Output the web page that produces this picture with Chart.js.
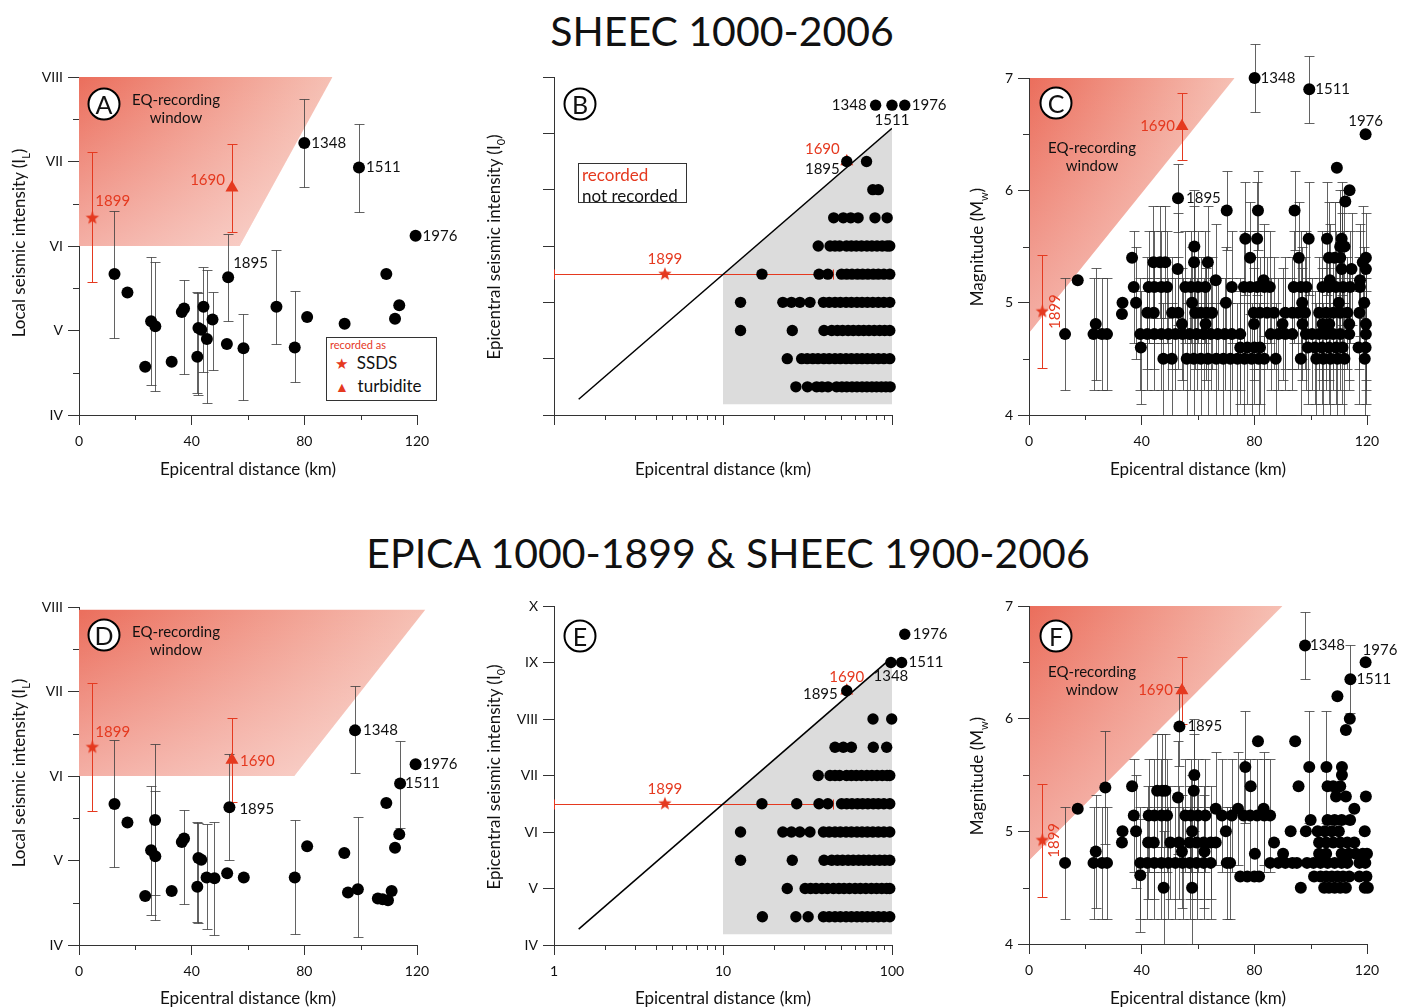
<!DOCTYPE html>
<html lang="en">
<head>
<meta charset="UTF-8">
<title>SHEEC / EPICA earthquake recording window</title>
<script src="https://cdn.jsdelivr.net/npm/chart.js"></script>
<style>
  body { margin: 0; background: #fff; font-family: Lato, 'Open Sans', sans-serif; color: #111; }
  .page { position: relative; width: 1406px; height: 1007px; overflow: hidden; }
  canvas { position: absolute; }
  .main-title { position: absolute; transform: translate(-50%, -50%); font-size: 41px; white-space: nowrap; }
  .xt { position: absolute; transform: translate(-50%, -50%); font-size: 17px; white-space: nowrap; }
  .yt { position: absolute; transform: translate(-50%, -50%) rotate(-90deg); font-size: 17px; white-space: nowrap; }
  .yt sub { font-size: 11px; }
  .letter { position: absolute; transform: translate(-50%, -50%); width: 29px; height: 29px; border: 2.5px solid #000;
            border-radius: 50%; background: #fff; text-align: center; line-height: 29px; font-size: 25px; }
  .window { position: absolute; transform: translateX(-50%); text-align: center; font-size: 15px; line-height: 18px; }
  .legend { position: absolute; border: 1.3px solid #333; background: #fff; font-size: 17px; }
  .red { color: #e5391f; }
</style>
</head>
<body>
<div class="page">
  <div class="main-title" style="left:722px; top:30px">SHEEC 1000-2006</div>
  <div class="main-title" style="left:728px; top:552px">EPICA 1000-1899 &amp; SHEEC 1900-2006</div>

  <canvas id="chartA" width="470" height="440" style="left:0; top:30px"></canvas>
  <canvas id="chartB" width="490" height="440" style="left:470px; top:30px"></canvas>
  <canvas id="chartC" width="466" height="450" style="left:940px; top:20px"></canvas>
  <canvas id="chartD" width="470" height="427" style="left:0; top:580px"></canvas>
  <canvas id="chartE" width="490" height="427" style="left:470px; top:580px"></canvas>
  <canvas id="chartF" width="466" height="427" style="left:940px; top:580px"></canvas>

  <div class="yt" style="left:20px; top:243px">Local seismic intensity (I<sub>L</sub>)</div>
  <div class="yt" style="left:495px; top:247px">Epicentral seismic intensity (I<sub>0</sub>)</div>
  <div class="yt" style="left:978px; top:247px">Magnitude (M<sub>w</sub>)</div>
  <div class="yt" style="left:20px; top:773px">Local seismic intensity (I<sub>L</sub>)</div>
  <div class="yt" style="left:495px; top:777px">Epicentral seismic intensity (I<sub>0</sub>)</div>
  <div class="yt" style="left:978px; top:776px">Magnitude (M<sub>w</sub>)</div>

  <div class="xt" style="left:248px; top:468px">Epicentral distance (km)</div>
  <div class="xt" style="left:723px; top:468px">Epicentral distance (km)</div>
  <div class="xt" style="left:1198px; top:468px">Epicentral distance (km)</div>
  <div class="xt" style="left:248px; top:997px">Epicentral distance (km)</div>
  <div class="xt" style="left:723px; top:997px">Epicentral distance (km)</div>
  <div class="xt" style="left:1198px; top:997px">Epicentral distance (km)</div>

  <div class="letter" style="left:104px; top:104px">A</div>
  <div class="letter" style="left:580px; top:104px">B</div>
  <div class="letter" style="left:1056px; top:103px">C</div>
  <div class="letter" style="left:104px; top:635px">D</div>
  <div class="letter" style="left:580px; top:636px">E</div>
  <div class="letter" style="left:1056px; top:636px">F</div>

  <div class="window" style="left:176px; top:90px">EQ-recording<br>window</div>
  <div class="window" style="left:1092px; top:138px">EQ-recording<br>window</div>
  <div class="window" style="left:176px; top:622px">EQ-recording<br>window</div>
  <div class="window" style="left:1092px; top:662px">EQ-recording<br>window</div>

  <div class="legend" style="left:326px; top:337px; width:109px; height:62px">
    <div class="red" style="font-size:11px; margin:0 0 0 3px; line-height:13px">recorded as</div>
    <div style="line-height:24px; margin-left:8px"><span class="red" style="font-size:15px">&#9733;</span>&nbsp; SSDS</div>
    <div style="line-height:22px; margin-left:8px"><span class="red" style="font-size:14px">&#9650;</span>&nbsp; turbidite</div>
  </div>
  <div class="legend" style="left:578px; top:163px; width:109px; height:40px; line-height:21px; padding-left:3px; box-sizing:border-box">
    <div class="red">recorded</div>
    <div>not recorded</div>
  </div>
</div>

<script>
  const ROMAN = ['', 'I', 'II', 'III', 'IV', 'V', 'VI', 'VII', 'VIII', 'IX', 'X'];
  const RED = '#e5391f';

  // ---- A: SHEEC, local intensity vs distance
  const aDist = [12.6, 17.2, 23.5, 25.6, 27.1, 32.9, 36.5, 37.3, 42.0, 42.4, 43.4, 44.2, 45.4, 47.4, 52.5, 58.4, 70.1, 76.6, 81.0, 94.3, 109.1, 112.2, 113.7];
  const aInt = [5.67, 5.45, 4.57, 5.11, 5.05, 4.63, 5.22, 5.26, 4.69, 5.03, 5.01, 5.28, 4.90, 5.13, 4.84, 4.79, 5.28, 4.80, 5.16, 5.08, 5.67, 5.14, 5.30];
  const aLo = [4.91, null, null, 4.35, 4.28, null, null, 4.49, 4.26, 4.24, null, 4.51, 4.14, 4.53, null, 4.18, 4.84, 4.39, null, null, null, null, null];
  const aHi = [6.42, null, null, 5.87, 5.81, null, null, 5.60, 5.45, 5.44, null, 5.75, 5.72, 5.46, null, 5.20, 5.95, 5.47, null, null, null, null, null];
  const aYears = ['1895', '1348', '1511', '1976'];
  const aYearDist = [52.95, 80.0, 99.4, 119.5];
  const aYearInt = [5.63, 7.22, 6.93, 6.12];
  const aYearLo = [5.11, 6.70, 6.40, null];
  const aYearHi = [6.14, 7.74, 7.44, null];
  const aRedDist = [4.74, 54.3];   // 1899 SSDS, 1690 turbidite
  const aRedInt = [6.33, 6.69];
  const aRedLo = [5.57, 6.17];
  const aRedHi = [7.11, 7.21];
  const aWindow = [[0, 8], [90, 8], [57, 6], [0, 6]];

  // ---- D: EPICA + SHEEC, local intensity vs distance
  const dDist = [12.6, 17.2, 23.5, 25.6, 27.0, 27.1, 32.9, 36.5, 37.3, 42.0, 42.4, 43.4, 45.3, 48.1, 52.6, 58.5, 76.6, 81.0, 94.2, 95.5, 99.0, 106.1, 107.8, 109.7, 111.0, 109.1, 112.2, 113.7];
  const dInt = [5.67, 5.45, 4.58, 5.12, 5.48, 5.05, 4.64, 5.22, 5.26, 4.69, 5.03, 5.01, 4.80, 4.79, 4.85, 4.80, 4.80, 5.17, 5.09, 4.62, 4.66, 4.55, 4.54, 4.53, 4.64, 5.68, 5.15, 5.31];
  const dLo = [4.92, null, null, 4.36, 4.30, 4.59, null, null, 4.49, 4.27, 4.26, null, 4.19, 4.12, null, null, 4.13, null, null, null, 4.09, null, null, null, null, null, null, null];
  const dHi = [6.43, null, null, 5.88, 6.38, 5.82, null, null, 5.60, 5.45, 5.44, null, 5.43, 5.46, null, null, 5.48, null, null, null, 5.52, null, null, null, null, null, null, null];
  const dYears = ['1895', '1348', '1511', '1976'];
  const dYearDist = [53.4, 98.0, 114.0, 119.5];
  const dYearInt = [5.63, 6.54, 5.91, 6.14];
  const dYearLo = [5.01, 6.03, 5.39, null];
  const dYearHi = [6.26, 7.06, 6.42, null];
  const dRedDist = [4.74, 54.3];
  const dRedInt = [6.34, 6.19];
  const dRedLo = [5.58, 5.69];
  const dRedHi = [7.10, 6.69];
  const dWindow = [[0, 7.97], [123, 7.97], [76.4, 6], [0, 6]];

  // ---- B / E: epicentral intensity vs distance (log), one row per intensity
  const bInt = [4.5, 5.0, 5.5, 6.0, 6.5, 7.0, 7.5, 8.0, 8.5];
  const bDist = [
    [27, 31.6, 35.8, 38.5, 41.8, 47, 50.5, 54, 58, 62, 66.5, 71, 76, 81, 86.5, 92, 97.5],
    [24, 29.2, 31.5, 34, 36.5, 39.5, 42.5, 46, 49.5, 53.5, 57.5, 62, 66.5, 71.5, 77, 83, 89.5, 97],
    [12.7, 25.7, 39.6, 44, 47.5, 51, 55, 59, 63.5, 68, 73, 78.5, 84.5, 90.5, 97],
    [12.7, 22.6, 25.4, 28.5, 32.7, 39.3, 42.5, 46, 49.5, 53.5, 57.5, 62, 66.5, 71.5, 77, 83, 89.5, 97],
    [17, 37, 41.7, 50.3, 54, 58, 62.5, 67, 72, 77.5, 83, 89.5, 97],
    [36.6, 43, 46, 49, 53.8, 57.5, 61.5, 66, 71, 76, 81.5, 87.5, 93.5, 97],
    [45.2, 51.5, 57, 63, 79.3, 93.6],
    [77, 83],
    [70.7]
  ];
  const bYears = ['1895', '1348', '1511', '1976'];
  const bYearDist = [54, 80, 100, 119];
  const bYearInt = [8.5, 9.5, 9.5, 9.5];

  const eInt = [4.5, 5.0, 5.5, 6.0, 6.5, 7.0, 7.5, 8.0];
  const eDist = [
    [17.1, 27, 31.9, 39.3, 42.5, 46, 49.5, 53.5, 57.5, 62, 66.5, 71.5, 77, 83, 89.5, 97],
    [24, 30.6, 33, 35.5, 38.5, 41.5, 45, 48.5, 52, 56, 60.5, 65, 70, 75.5, 81, 87, 93, 97],
    [12.7, 25.7, 39.6, 44, 47.5, 51, 55, 59, 63.5, 68, 73, 78.5, 84.5, 90.5, 97],
    [12.7, 22.6, 25.4, 28.5, 32.7, 39.3, 42.5, 46, 49.5, 53.5, 57.5, 62, 66.5, 71.5, 77, 83, 89.5, 97],
    [17, 27.3, 37, 41.7, 50.3, 54, 58, 62.5, 67, 72, 77.5, 83, 89.5, 97],
    [36.6, 43, 46, 49, 53.8, 57.5, 61.5, 66, 71, 76, 81.5, 87.5, 93.5, 97],
    [46, 51.5, 57.5, 77.5, 93],
    [77.2, 99.6]
  ];
  const eYears = ['1895', '1348', '1511', '1976'];
  const eYearDist = [54, 98.5, 114, 119];
  const eYearInt = [8.5, 9, 9, 9.5];

  // shared for B and E: 1899 SSDS (with distance range) and 1690 turbidite
  const ioRedDist = [4.53, 54];
  const ioRedInt = [6.5, 8.5];
  const ioSsdsRange = [1, 45];
  const ioLineDist = [1.4, 100];
  const ioLineInt = [4.28, 9.09];
  const ioGrey = [[10, 4.19], [100, 4.19], [100, 9.09], [10, 6.495]];

  // ---- C / F: magnitude vs distance, rows of equal magnitude; err = half-width of bar (0 = none)
  const cMag = [4.5, 4.6, 4.72, 4.81, 4.91, 5.0, 5.14, 5.2, 5.3, 5.36, 5.4, 5.5, 5.57, 5.82, 4.9, 5.0, 5.2, 5.4, 5.9, 6.0, 6.2];
  const cErr = [0.5, 0.5, 0.5, 0.5, 0.5, 0.5, 0.5, 0.5, 0.5, 0.5, 0.5, 0.5, 0.5, 0.35, 0, 0, 0, 0, 0, 0, 0];
  const cDist = [
    [47.7, 50.7, 56, 58.5, 61, 63.5, 66.5, 69, 71.5, 74, 76.5, 79, 81.5, 83.5, 87.6, 96.5, 102, 104.5, 107, 109.5, 112, 119.2],
    [39.7, 75, 77.5, 80, 82, 99, 101.5, 104, 106.5, 109, 111.3, 117, 119.5],
    [12.8, 22.9, 25.9, 27.7, 39.5, 42, 44.5, 47, 49.5, 52, 54.5, 57, 59.5, 62, 64.5, 67, 69.5, 72, 75, 85.8, 88.5, 91, 93.5, 98.3, 100.5, 103, 105.5, 108, 110.5, 113.7, 119.6],
    [23.7, 54.3, 62.7, 79.9, 90, 97.1, 104.2, 106.6, 113.7, 119.6],
    [42, 44.3, 50.8, 53, 59, 61, 63, 65, 79.8, 82, 84.5, 87, 91, 93.5, 95.5, 98, 103, 105.5, 108, 110.5, 113, 117.3],
    [38, 57.9, 69.9, 97, 110, 119],
    [37.2, 42.5, 44.5, 47, 49, 55.5, 57.5, 60, 62.6, 72, 76.3, 78.5, 81, 83.5, 85.5, 94, 96.5, 98.5, 104.2, 106.5, 109, 111.5, 114, 117.5],
    [66.3, 83.3, 106.8, 117.5],
    [52.8, 111, 114.5, 119.6],
    [44.2, 46.5, 48.4, 58.6, 63.5, 118.5],
    [78.5, 95.8, 106.5, 108.5, 110.5],
    [58.7, 110.5, 112],
    [76.8, 81, 99.3, 105.8, 111],
    [70.2, 81.3, 94.3],
    [33],
    [33.2],
    [17.3],
    [36.6, 119.6],
    [112.3],
    [113.8],
    [109.3]
  ];
  const cYears = ['1895', '1348', '1511', '1976'];
  const cYearDist = [52.9, 80.1, 99.5, 119.5];
  const cYearMag = [5.93, 7.0, 6.9, 6.5];
  const cYearErr = [0.3, 0.3, 0.3, 0];
  const cRedDist = [4.74, 54.3];
  const cRedMag = [4.92, 6.57];
  const cRedErr = [0.5, 0.3];
  const cWindow = [[0.3, 7], [73, 7], [0.3, 4.74]];

  const fMag = [4.5, 4.61, 4.72, 4.82, 4.9, 5.0, 5.14, 5.2, 5.3, 5.36, 5.39, 5.5, 5.57,
                4.5, 4.6, 4.72, 4.8, 4.9, 5.0, 5.1, 5.2, 5.31, 5.4, 5.5, 5.57, 5.8, 5.9, 6.0, 6.2];
  const fErr = [0.5, 0.5, 0.5, 0.5, 0.5, 0.5, 0.5, 0.5, 0.5, 0.5, 0.5, 0.5, 0.5,
                0, 0, 0, 0, 0, 0, 0, 0, 0, 0, 0, 0, 0, 0, 0, 0];
  const fDist = [
    [47.8, 57.9],
    [39.5],
    [12.8, 22.9, 25.9, 27.7, 39.5, 42, 44.5, 47, 49.5, 52, 54.5, 57, 59.5, 62, 64.5, 70.2, 71.4],
    [23.7, 54.3, 62.3],
    [42.3, 44.3, 50.2, 53.2, 57, 59.5, 62, 64.5],
    [38, 57.9],
    [37.2, 42.5, 44.5, 47, 49, 55.5, 57.5, 60, 62.6, 68.5, 72, 76.2, 78.5, 81, 83.5, 85.6],
    [66.3, 74.2, 83.3],
    [52.9],
    [45.5, 47.3, 48.4, 58.5],
    [27.1],
    [58.7],
    [76.8, 99.5, 105.6],
    [96.5, 104.8, 106.5, 108.5, 110.5, 112.5, 119.2, 120.3],
    [75, 77.5, 80, 81.7, 101.2, 103.5, 105.5, 107.5, 109.5, 111.5, 113.7, 117.3, 119.8],
    [85.6, 88.5, 91, 93.5, 95.1, 98.7, 101, 103.5, 106, 108.5, 111, 113, 117.3, 119.4],
    [80.2, 90.2, 103, 105.5, 111, 113.5, 116, 118.5, 120],
    [33, 66.3, 87, 103, 105.5, 108, 110.5, 113, 115.5],
    [33.2, 69.9, 92.9, 98.3, 102.5, 105, 107.5, 110, 119.2],
    [100, 106, 108.5, 111, 114],
    [17.3, 115.5],
    [109, 112.5, 119.6],
    [36.6, 78.7, 95.7, 106, 108, 110.5],
    [111.1],
    [111.1],
    [81.3, 94.5],
    [112.5],
    [113.9],
    [109.5]
  ];
  const fYears = ['1895', '1348', '1511', '1976'];
  const fYearDist = [53.4, 98.0, 114.1, 119.5];
  const fYearMag = [5.93, 6.65, 6.35, 6.5];
  const fYearErr = [0.35, 0.3, 0.3, 0];
  const fRedDist = [4.74, 54.3];
  const fRedMag = [4.92, 6.25];
  const fRedErr = [0.5, 0.3];
  const fWindow = [[0.3, 7], [90, 7], [0.3, 4.75]];

  // ---------- helpers ----------
  Chart.defaults.font.family = 'Lato, "Open Sans", sans-serif';
  Chart.defaults.color = '#111';

  function starImage(r, color) {
    const c = document.createElement('canvas');
    const s = Math.ceil(r * 2) + 2;
    c.width = c.height = s;
    const g = c.getContext('2d');
    g.fillStyle = color;
    g.beginPath();
    for (let i = 0; i < 10; i++) {
      const a = -Math.PI / 2 + i * Math.PI / 5;
      const rr = i % 2 ? r * 0.42 : r;
      g.lineTo(s / 2 + rr * Math.cos(a), s / 2 + rr * Math.sin(a));
    }
    g.closePath();
    g.fill();
    return c;
  }
  const STAR = starImage(7, RED);

  function pointsLoHi(xs, ys, lo, hi) {
    return xs.map((x, i) => ({ x, y: ys[i], yMin: lo ? lo[i] : null, yMax: hi ? hi[i] : null }));
  }
  function pointsErr(xs, ys, err) {
    return xs.map((x, i) => ({ x, y: ys[i], yMin: err && err[i] ? ys[i] - err[i] : null, yMax: err && err[i] ? ys[i] + err[i] : null }));
  }
  function rowPoints(levels, dists, err) {
    const out = [];
    levels.forEach((lv, r) => dists[r].forEach(d => out.push({
      x: d, y: lv,
      yMin: err && err[r] ? lv - err[r] : null,
      yMax: err && err[r] ? lv + err[r] : null
    })));
    return out;
  }

  function dots(data, r) {
    return { data, pointRadius: r || 6, pointBackgroundColor: '#000', pointBorderWidth: 0, barColor: 'rgba(60,60,60,0.8)', clip: false };
  }
  function star(p) {
    return { data: [p], pointStyle: STAR, pointRadius: 7, barColor: RED, clip: false };
  }
  function triangle(p) {
    return { data: [p], pointStyle: 'triangle', pointRadius: 7.5, pointBackgroundColor: RED, pointBorderWidth: 0, barColor: RED, clip: false };
  }

  // shading, error bars, minor ticks and year labels
  function extras(spec) {
    return {
      id: 'panelExtras',
      beforeDatasetsDraw(chart) {
        const { ctx, scales: { x, y } } = chart;
        (spec.shapes || []).forEach(s => {
          const xs = s.pts.map(p => x.getPixelForValue(p[0]));
          const ys = s.pts.map(p => y.getPixelForValue(p[1]));
          ctx.save();
          ctx.beginPath();
          xs.forEach((X, i) => (i ? ctx.lineTo(X, ys[i]) : ctx.moveTo(X, ys[i])));
          ctx.closePath();
          if (s.fill === 'window') {
            ctx.clip();
            const x0 = Math.min(...xs), x1 = Math.max(...xs), y0 = Math.min(...ys), y1 = Math.max(...ys);
            const h = ctx.createLinearGradient(x0, 0, x1, 0);
            h.addColorStop(0, 'rgb(235,110,92)');
            h.addColorStop(1, 'rgb(246,192,180)');
            ctx.fillStyle = h;
            ctx.fillRect(x0, y0, x1 - x0, y1 - y0);
            const v = ctx.createLinearGradient(0, y0, 0, y1);
            v.addColorStop(0, 'rgba(255,255,255,0)');
            v.addColorStop(1, 'rgba(255,255,255,0.45)');
            ctx.fillStyle = v;
            ctx.fillRect(x0, y0, x1 - x0, y1 - y0);
          } else {
            ctx.fillStyle = s.fill;
            ctx.fill();
          }
          ctx.restore();
        });

        chart.data.datasets.forEach(ds => {
          if (!ds.barColor) return;
          ctx.save();
          ctx.strokeStyle = ds.barColor;
          ctx.lineWidth = 1;
          ctx.beginPath();
          ds.data.forEach(p => {
            const px = Math.round(x.getPixelForValue(p.x)) + 0.5;
            const py = Math.round(y.getPixelForValue(p.y)) + 0.5;
            if (p.yMin != null) {
              const a = Math.round(y.getPixelForValue(p.yMin)) + 0.5;
              const b = Math.round(y.getPixelForValue(p.yMax)) + 0.5;
              ctx.moveTo(px, a); ctx.lineTo(px, b);
              ctx.moveTo(px - 5, a); ctx.lineTo(px + 5, a);
              ctx.moveTo(px - 5, b); ctx.lineTo(px + 5, b);
            }
            if (p.xMin != null) {
              const a = Math.round(x.getPixelForValue(p.xMin)) + 0.5;
              const b = Math.round(x.getPixelForValue(p.xMax)) + 0.5;
              ctx.moveTo(a, py); ctx.lineTo(b, py);
              ctx.moveTo(a, py - 5); ctx.lineTo(a, py + 5);
              ctx.moveTo(b, py - 5); ctx.lineTo(b, py + 5);
            }
          });
          ctx.stroke();
          ctx.restore();
        });
      },
      afterDatasetsDraw(chart) {
        // the point elements skip themselves when they sit past the chart area
        // (events beyond 100 km on the log panels); draw those against the whole canvas
        const area = chart.chartArea;
        const whole = { left: 0, top: 0, right: chart.width, bottom: chart.height };
        chart.data.datasets.forEach((ds, i) => {
          chart.getDatasetMeta(i).data.forEach(el => {
            if (el.x > area.right + 6 || el.x < area.left - 6 || el.y < area.top - 6 || el.y > area.bottom + 6) {
              el.draw(chart.ctx, whole);
            }
          });
        });
      },
      afterDraw(chart) {
        const { ctx, scales: { x, y }, chartArea } = chart;
        ctx.save();
        ctx.strokeStyle = '#333';
        ctx.lineWidth = 1;
        ctx.beginPath();
        (spec.minorX || []).forEach(v => {
          const X = Math.round(x.getPixelForValue(v)) + 0.5;
          ctx.moveTo(X, chartArea.bottom); ctx.lineTo(X, chartArea.bottom + 5);
        });
        (spec.minorY || []).forEach(v => {
          const Y = Math.round(y.getPixelForValue(v)) + 0.5;
          ctx.moveTo(chartArea.left - 6, Y); ctx.lineTo(chartArea.left, Y);
        });
        ctx.stroke();

        ctx.font = '15px Lato, "Open Sans", sans-serif';
        ctx.textBaseline = 'middle';
        (spec.notes || []).forEach(n => {
          const X = x.getPixelForValue(n.x) + n.dx;
          const Y = y.getPixelForValue(n.y) + n.dy;
          ctx.fillStyle = n.red ? RED : '#111';
          ctx.textAlign = n.align || 'left';
          if (n.rot) {
            ctx.save();
            ctx.translate(X, Y);
            ctx.rotate(-Math.PI / 2);
            ctx.fillText(n.t, 0, 0);
            ctx.restore();
          } else {
            ctx.fillText(n.t, X, Y);
          }
        });
        ctx.restore();
      }
    };
  }

  function panel(id, spec) {
    const tickFont = { size: 14 };
    return new Chart(document.getElementById(id), {
      type: 'scatter',
      data: { datasets: spec.datasets },
      options: {
        responsive: false,
        animation: false,
        events: [],
        layout: { padding: { top: spec.padTop, right: spec.padRight, left: 0, bottom: 0 } },
        plugins: { legend: { display: false }, tooltip: { enabled: false } },
        scales: {
          x: {
            type: spec.xLog ? 'logarithmic' : 'linear',
            min: spec.xMin, max: spec.xMax,
            afterFit: s => { s.height = spec.xAxisH; },
            afterBuildTicks: s => { s.ticks = spec.xMajor.map(v => ({ value: v })); },
            ticks: { callback: v => (spec.xLabels ? String(v) : ''), font: tickFont, color: '#111', padding: 8, maxRotation: 0, autoSkip: false },
            grid: { drawOnChartArea: false, tickLength: 10, color: '#333' },
            border: { color: '#333', width: 1 }
          },
          y: {
            min: spec.yMin, max: spec.yMax,
            afterFit: s => { s.width = spec.yAxisW; },
            afterBuildTicks: s => { s.ticks = spec.yMajor.map(v => ({ value: v })); },
            ticks: { callback: spec.yLabel, font: tickFont, color: '#111', padding: 5, autoSkip: false },
            grid: { drawOnChartArea: false, tickLength: 11, color: '#333' },
            border: { color: '#333', width: 1 }
          }
        }
      },
      plugins: [extras(spec)]
    });
  }

  const roman = v => ROMAN[v];
  const plain = v => String(v);
  const none = () => '';

  // A
  panel('chartA', {
    padTop: 47, padRight: 53, xAxisH: 55, yAxisW: 79,
    xMin: 0, xMax: 120, xMajor: [0, 40, 80, 120], xLabels: true, minorX: [20, 60, 100],
    yMin: 4, yMax: 8, yMajor: [4, 5, 6, 7, 8], yLabel: roman, minorY: [4.5, 5.5, 6.5, 7.5],
    shapes: [{ pts: aWindow, fill: 'window' }],
    datasets: [
      dots(pointsLoHi(aDist, aInt, aLo, aHi)),
      dots(pointsLoHi(aYearDist, aYearInt, aYearLo, aYearHi)),
      star(pointsLoHi(aRedDist, aRedInt, aRedLo, aRedHi)[0]),
      triangle(pointsLoHi(aRedDist, aRedInt, aRedLo, aRedHi)[1])
    ],
    notes: [
      { t: '1899', x: aRedDist[0], y: aRedInt[0], dx: 3, dy: -17, red: true },
      { t: '1690', x: aRedDist[1], y: aRedInt[1], dx: -7, dy: -8, align: 'right', red: true },
      { t: aYears[0], x: aYearDist[0], y: aYearInt[0], dx: 5, dy: -14 },
      { t: aYears[1], x: aYearDist[1], y: aYearInt[1], dx: 7, dy: 0 },
      { t: aYears[2], x: aYearDist[2], y: aYearInt[2], dx: 7, dy: 0 },
      { t: aYears[3], x: aYearDist[3], y: aYearInt[3], dx: 7, dy: 0 }
    ]
  });

  function ioPanel(id, spec, rowsInt, rowsDist, yrs, yrDist, yrInt) {
    const ssds = { x: ioRedDist[0], y: ioRedInt[0], xMin: ioSsdsRange[0], xMax: ioSsdsRange[1] };
    return panel(id, Object.assign({
      xLog: true, xMin: 1, xMax: 100, xMajor: [1, 10, 100],
      minorX: [2, 3, 4, 5, 6, 7, 8, 9, 20, 30, 40, 50, 60, 70, 80, 90],
      yMin: 4, yMax: 10, yMajor: [4, 5, 6, 7, 8, 9, 10],
      shapes: [{ pts: ioGrey, fill: '#dcdcdc' }],
      datasets: [
        { data: ioLineDist.map((d, i) => ({ x: d, y: ioLineInt[i] })), showLine: true, borderColor: '#000', borderWidth: 1.5, pointRadius: 0 },
        dots(rowPoints(rowsInt, rowsDist), 5.7),
        dots(yrDist.map((d, i) => ({ x: d, y: yrInt[i] })), 5.7),
        star(ssds),
        triangle({ x: ioRedDist[1], y: ioRedInt[1] })
      ]
    }, spec));
  }

  // B
  ioPanel('chartB', {
    padTop: 47, padRight: 68, xAxisH: 55, yAxisW: 84, xLabels: false, yLabel: none,
    notes: [
      { t: '1899', x: ioRedDist[0], y: ioRedInt[0], dx: 0, dy: -15, align: 'center', red: true },
      { t: '1690', x: ioRedDist[1], y: ioRedInt[1], dx: -7, dy: -12, align: 'right', red: true },
      { t: bYears[0], x: bYearDist[0], y: bYearInt[0], dx: -7, dy: 8, align: 'right' },
      { t: bYears[1], x: bYearDist[1], y: bYearInt[1], dx: -9, dy: 0, align: 'right' },
      { t: bYears[2], x: bYearDist[2], y: bYearInt[2], dx: 0, dy: 15, align: 'center' },
      { t: bYears[3], x: bYearDist[3], y: bYearInt[3], dx: 7, dy: 0 }
    ]
  }, bInt, bDist, bYears, bYearDist, bYearInt);

  // E
  ioPanel('chartE', {
    padTop: 26, padRight: 68, xAxisH: 62, yAxisW: 84, xLabels: true, yLabel: roman,
    notes: [
      { t: '1899', x: ioRedDist[0], y: ioRedInt[0], dx: 0, dy: -15, align: 'center', red: true },
      { t: '1690', x: ioRedDist[1], y: ioRedInt[1], dx: 0, dy: -14, align: 'center', red: true },
      { t: eYears[0], x: eYearDist[0], y: eYearInt[0], dx: -9, dy: 3, align: 'right' },
      { t: eYears[1], x: eYearDist[1], y: eYearInt[1], dx: 0, dy: 14, align: 'center' },
      { t: eYears[2], x: eYearDist[2], y: eYearInt[2], dx: 7, dy: 0 },
      { t: eYears[3], x: eYearDist[3], y: eYearInt[3], dx: 8, dy: 0 }
    ]
  }, eInt, eDist, eYears, eYearDist, eYearInt);

  // C
  panel('chartC', {
    padTop: 58, padRight: 39, xAxisH: 55, yAxisW: 89,
    xMin: 0, xMax: 120, xMajor: [0, 40, 80, 120], xLabels: true, minorX: [20, 60, 100],
    yMin: 4, yMax: 7, yMajor: [4, 5, 6, 7], yLabel: plain, minorY: [4.5, 5.5, 6.5],
    shapes: [{ pts: cWindow, fill: 'window' }],
    datasets: [
      dots(rowPoints(cMag, cDist, cErr)),
      dots(pointsErr(cYearDist, cYearMag, cYearErr)),
      star(pointsErr(cRedDist, cRedMag, cRedErr)[0]),
      triangle(pointsErr(cRedDist, cRedMag, cRedErr)[1])
    ],
    notes: [
      { t: '1899', x: cRedDist[0], y: cRedMag[0], dx: 13, dy: 0, align: 'center', rot: true, red: true },
      { t: '1690', x: cRedDist[1], y: cRedMag[1], dx: -7, dy: 0, align: 'right', red: true },
      { t: cYears[0], x: cYearDist[0], y: cYearMag[0], dx: 8, dy: 0 },
      { t: cYears[1], x: cYearDist[1], y: cYearMag[1], dx: 6, dy: 0 },
      { t: cYears[2], x: cYearDist[2], y: cYearMag[2], dx: 6, dy: 0 },
      { t: cYears[3], x: cYearDist[3], y: cYearMag[3], dx: 0, dy: -13, align: 'center' }
    ]
  });

  // D
  panel('chartD', {
    padTop: 27, padRight: 53, xAxisH: 62, yAxisW: 79,
    xMin: 0, xMax: 120, xMajor: [0, 40, 80, 120], xLabels: true, minorX: [20, 60, 100],
    yMin: 4, yMax: 8, yMajor: [4, 5, 6, 7, 8], yLabel: roman, minorY: [4.5, 5.5, 6.5, 7.5],
    shapes: [{ pts: dWindow, fill: 'window' }],
    datasets: [
      dots(pointsLoHi(dDist, dInt, dLo, dHi)),
      dots(pointsLoHi(dYearDist, dYearInt, dYearLo, dYearHi)),
      star(pointsLoHi(dRedDist, dRedInt, dRedLo, dRedHi)[0]),
      triangle(pointsLoHi(dRedDist, dRedInt, dRedLo, dRedHi)[1])
    ],
    notes: [
      { t: '1899', x: dRedDist[0], y: dRedInt[0], dx: 3, dy: -15, red: true },
      { t: '1690', x: dRedDist[1], y: dRedInt[1], dx: 8, dy: 1, red: true },
      { t: dYears[0], x: dYearDist[0], y: dYearInt[0], dx: 10, dy: 2 },
      { t: dYears[1], x: dYearDist[1], y: dYearInt[1], dx: 8, dy: 0 },
      { t: dYears[2], x: dYearDist[2], y: dYearInt[2], dx: 5, dy: 0 },
      { t: dYears[3], x: dYearDist[3], y: dYearInt[3], dx: 7, dy: 0 }
    ]
  });

  // F
  panel('chartF', {
    padTop: 26, padRight: 39, xAxisH: 63, yAxisW: 89,
    xMin: 0, xMax: 120, xMajor: [0, 40, 80, 120], xLabels: true, minorX: [20, 60, 100],
    yMin: 4, yMax: 7, yMajor: [4, 5, 6, 7], yLabel: plain, minorY: [4.5, 5.5, 6.5],
    shapes: [{ pts: fWindow, fill: 'window' }],
    datasets: [
      dots(rowPoints(fMag, fDist, fErr)),
      dots(pointsErr(fYearDist, fYearMag, fYearErr)),
      star(pointsErr(fRedDist, fRedMag, fRedErr)[0]),
      triangle(pointsErr(fRedDist, fRedMag, fRedErr)[1])
    ],
    notes: [
      { t: '1899', x: fRedDist[0], y: fRedMag[0], dx: 12, dy: 0, align: 'center', rot: true, red: true },
      { t: '1690', x: fRedDist[1], y: fRedMag[1], dx: -9, dy: 0, align: 'right', red: true },
      { t: fYears[0], x: fYearDist[0], y: fYearMag[0], dx: 8, dy: 0 },
      { t: fYears[1], x: fYearDist[1], y: fYearMag[1], dx: 5, dy: 0 },
      { t: fYears[2], x: fYearDist[2], y: fYearMag[2], dx: 6, dy: 0 },
      { t: fYears[3], x: fYearDist[3], y: fYearMag[3], dx: -3, dy: -12 }
    ]
  });
</script>
</body>
</html>
